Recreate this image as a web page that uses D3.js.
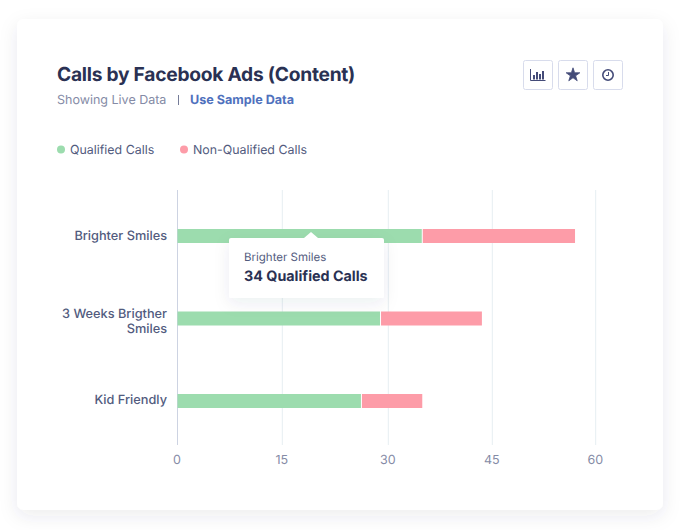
<!DOCTYPE html>
<html>
<head>
<meta charset="utf-8">
<script src="https://cdn.jsdelivr.net/npm/d3@7"></script>
<style>
  html, body { margin: 0; padding: 0; background: #fff; }
  text { font-family: Inter, "Noto Sans", sans-serif; text-rendering: geometricPrecision; }
</style>
</head>
<body>
<svg id="chart" width="680" height="530"></svg>
<script>
var categories = ['Brighter Smiles', '3 Weeks Brigther Smiles', 'Kid Friendly']
var qualified = [34.9, 28.9, 26.2]
var nonQualified = [22.1, 14.6, 8.7]
var ticks = [0, 15, 30, 45, 60]
var legendNames = ['Qualified Calls', 'Non-Qualified Calls']

var green = '#9cdcae', pink = '#fd9ca8', navy = '#2a3153', slate = '#525b7e', grey = '#858ba6'

var svg = d3.select('#chart')
var defs = svg.append('defs')

var f = defs.append('filter').attr('id', 'cardShadow')
  .attr('x', '-10%').attr('y', '-10%').attr('width', '120%').attr('height', '120%')
f.append('feDropShadow').attr('dx', 0).attr('dy', 6).attr('stdDeviation', 9)
  .attr('flood-color', '#2a3153').attr('flood-opacity', 0.09)

var t = defs.append('filter').attr('id', 'tipShadow')
  .attr('x', '-20%').attr('y', '-30%').attr('width', '140%').attr('height', '170%')
t.append('feDropShadow').attr('dx', 0).attr('dy', 5).attr('stdDeviation', 8)
  .attr('flood-color', '#2a3153').attr('flood-opacity', 0.08)

// card
svg.append('rect').attr('x', 17).attr('y', 19).attr('width', 646).attr('height', 491)
  .attr('rx', 7).attr('fill', '#fff').attr('filter', 'url(#cardShadow)')

// header
svg.append('text').attr('x', 57).attr('y', 81).text('Calls by Facebook Ads (Content)')
  .attr('font-size', 19.2).attr('font-weight', 700).attr('fill', navy).attr('letter-spacing', -0.25)
svg.append('text').attr('x', 57).attr('y', 104).text('Showing Live Data')
  .attr('font-size', 12.5).attr('fill', grey)
svg.append('line').attr('x1', 178.5).attr('x2', 178.5).attr('y1', 95).attr('y2', 105)
  .attr('stroke', slate).attr('stroke-opacity', 0.8)
svg.append('text').attr('x', 190).attr('y', 104).text('Use Sample Data')
  .attr('font-size', 12.6).attr('font-weight', 700).attr('fill', '#4f71bd')

// icon buttons
var buttons = svg.append('g').selectAll('g').data([523, 558, 593]).enter().append('g')
  .attr('transform', function (d) { return 'translate(' + d + ',60)' })
buttons.append('rect').attr('x', 0.5).attr('y', 0.5).attr('width', 29).attr('height', 29)
  .attr('rx', 2).attr('fill', '#fff').attr('stroke', '#d8dcec')

var iconColor = '#444b78'
var b0 = d3.select(buttons.nodes()[0])
b0.append('path').attr('d', 'M7.5 9V20.5H22.5').attr('fill', 'none').attr('stroke', iconColor).attr('stroke-width', 1)
b0.selectAll('.b').data([[10, 15], [13, 12], [16, 14], [19, 11]]).enter().append('rect')
  .attr('x', function (d) { return d[0] }).attr('y', function (d) { return d[1] })
  .attr('width', 2).attr('height', function (d) { return 19.5 - d[1] }).attr('fill', iconColor)

d3.select(buttons.nodes()[1]).append('path')
  .attr('d', d3.symbol(d3.symbolStar, 58)())
  .attr('transform', 'translate(15,15)').attr('fill', iconColor)
  .attr('stroke', iconColor).attr('stroke-width', 0.8).attr('stroke-linejoin', 'round')

var b2 = d3.select(buttons.nodes()[2])
b2.append('circle').attr('cx', 15).attr('cy', 15).attr('r', 5.2)
  .attr('fill', 'none').attr('stroke', iconColor).attr('stroke-width', 1.6)
b2.append('path').attr('d', 'M15.5 12V15.5H13').attr('fill', 'none').attr('stroke', iconColor).attr('stroke-width', 1)

// legend
var legendColor = d3.scaleOrdinal().domain(legendNames).range([green, pink])
var legendX = [61, 184]
var legend = svg.append('g').selectAll('g').data(legendNames).enter().append('g')
  .attr('transform', function (d, i) { return 'translate(' + legendX[i] + ',149.5)' })
legend.append('circle').attr('r', 4).attr('fill', function (d) { return legendColor(d) })
legend.append('text').attr('x', 9).attr('y', 4.5).text(function (d) { return d })
  .attr('font-size', 12.4).attr('fill', slate)

// scales
var x = d3.scaleLinear().domain(ticks).range([177.5, 282.3, 388.3, 492.3, 595.7])
var y = d3.scaleBand().domain(categories).range([194.75, 442.25]).paddingInner(0)

// grid
svg.append('g').selectAll('line').data(ticks).enter().append('line')
  .attr('x1', function (d) { return x(d) }).attr('x2', function (d) { return x(d) })
  .attr('y1', 190).attr('y2', 445)
  .attr('stroke', function (d) { return d === 0 ? '#cdd3e2' : '#e6eef2' })

// bars
var rows = svg.append('g').selectAll('g').data(categories).enter().append('g')
var barH = 14
var barY = function (d) { return y(d) + y.bandwidth() / 2 - barH / 2 }
rows.append('rect').attr('x', x(0)).attr('y', barY)
  .attr('width', function (d, i) { return x(qualified[i]) - x(0) - 0.5 })
  .attr('height', barH).attr('fill', green)
rows.append('rect').attr('x', function (d, i) { return x(qualified[i]) + 0.5 }).attr('y', barY)
  .attr('width', function (d, i) { return x(qualified[i] + nonQualified[i]) - x(qualified[i]) - 0.5 })
  .attr('height', barH).attr('fill', pink)

// category labels
var labelLines = [['Brighter Smiles'], ['3 Weeks Brigther', 'Smiles'], ['Kid Friendly']]
var labelShift = [3.5, -1, 2.5]
rows.each(function (d, i) {
  var lines = labelLines[i]
  var start = barY(d) + barH / 2 + labelShift[i]
  d3.select(this).selectAll('text').data(lines).enter().append('text')
    .attr('x', 167).attr('y', function (l, j) { return start + j * 15 })
    .attr('text-anchor', 'end').attr('font-size', 12.75).attr('font-weight', 500)
    .attr('fill', slate).text(function (l) { return l })
})

// x labels
svg.append('g').selectAll('text').data(ticks).enter().append('text')
  .attr('x', function (d) { return x(d) - 0.5 }).attr('y', 464).attr('text-anchor', 'middle')
  .attr('font-size', 12.5).attr('fill', grey).text(function (d) { return d })

// tooltip
var tip = svg.append('g')
tip.append('rect').attr('x', 229).attr('y', 238).attr('width', 155).attr('height', 60)
  .attr('rx', 2).attr('fill', '#fff').attr('filter', 'url(#tipShadow)')
tip.append('path').attr('d', 'M304 238L311 232L318 238Z').attr('fill', '#fff')
tip.append('text').attr('x', 244).attr('y', 261).text(categories[0])
  .attr('font-size', 11.5).attr('fill', slate)
tip.append('text').attr('x', 244).attr('y', 281).text('34 Qualified Calls')
  .attr('font-size', 14.3).attr('font-weight', 700).attr('fill', navy)
</script>
</body>
</html>
